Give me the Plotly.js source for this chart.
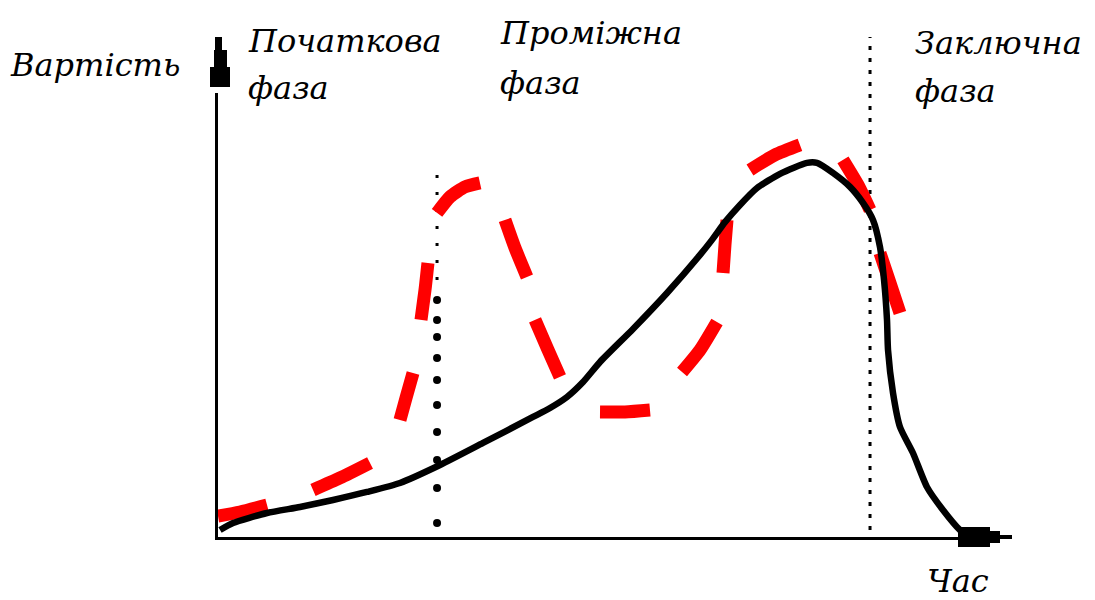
<!DOCTYPE html>
<html>
<head>
<meta charset="utf-8">
<script src="https://cdn.plot.ly/plotly-3.0.1.min.js"></script>
<style>html,body{margin:0;padding:0;background:#fff;}#chart{width:1095px;height:600px;}</style>
</head>
<body>
<div id="chart"></div>
<script>
// ---- data (time on x, cost on y; arbitrary units) ----
const costTime = [0.26,1.92,6.27,10.49,14.71,19.05,23.27,28.39,33.89,40.28,42.46,44.63,46.68,48.85,53.07,57.42,61.64,63.17,64.83,66.75,68.93,71.87,75.32,76.60,78.64,80.82,82.48,83.76,84.65,85.17,85.55,85.68,86.32,87.21,88.87,90.66,92.71,94.88,96.16];
const costValue = [1.42,2.85,4.88,6.10,7.52,9.15,10.98,14.63,19.11,24.39,26.22,28.46,31.50,35.57,42.28,49.59,57.32,60.37,63.98,67.48,70.93,73.78,76.02,76.02,73.98,71.14,67.89,64.43,58.94,52.24,44.11,38.01,29.27,22.36,17.07,10.16,5.49,1.42,0];

// red dashed curve, null separates dashes
const altTime = [0,2.81,6.27,null,12.15,15.60,19.44,null,23.27,24.04,24.94,null,25.96,26.47,26.85,null,28.01,29.67,31.59,33.50,null,36.70,37.98,39.51,null,40.54,42.20,43.73,null,48.85,52.05,55.24,null,59.34,61.64,63.81,null,64.58,64.83,65.09,null,68.03,71.23,74.42,null,79.92,81.84,83.38,null,84.65,85.93,87.21];
const altValue = [4.27,5.08,6.50,null,9.55,11.99,15.04,null,23.78,28.25,33.33,null,44.11,50.20,55.69,null,65.85,69.11,71.14,71.95,null,64.43,58.74,52.85,null,44.11,38.01,32.52,null,25.41,25.41,25.81,null,33.54,38.01,43.70,null,53.66,59.35,64.43,null,74.59,77.64,79.67,null,76.63,71.54,66.46,null,57.72,51.63,45.53];

// phase boundaries
const boundary1Time = 28.01;
const boundary1SmallDots = [73.58, 50.20];
const boundary1BigDots = [48.17,44.11,40.65,36.38,31.91,26.83,21.34,15.65,9.96,2.85];
const boundary2Time = 83.38;
const boundary2Span = [1.42, 101.6];

const labels = {
  y: "Вартість", x: "Час",
  phase1: ["Початкова","фаза"],
  phase2: ["Проміжна","фаза"],
  phase3: ["Заключна","фаза"]
};

// ---- layout helpers (pixel -> paper) ----
const L = 218, R = 1000, T = 37, B = 537;
const px = p => (p - L) / (R - L);
const py = p => (B - p) / (B - T);

const traces = [
  {x: [boundary1Time, boundary1Time], y: boundary1SmallDots, mode: 'lines',
   line: {color: '#000', width: 3, dash: '3px,14px'}, hoverinfo: 'skip'},
  {x: boundary1BigDots.map(() => boundary1Time), y: boundary1BigDots, mode: 'markers',
   marker: {color: '#000', size: 8}, hoverinfo: 'skip'},
  {x: [boundary2Time, boundary2Time], y: boundary2Span, mode: 'lines',
   line: {color: '#000', width: 3, dash: '4px,8px'}, hoverinfo: 'skip'},
  {x: altTime, y: altValue, mode: 'lines', connectgaps: false,
   line: {color: '#ff0000', width: 13, shape: 'spline', smoothing: 0.6}, hoverinfo: 'skip'},
  {x: costTime, y: costValue, mode: 'lines',
   line: {color: '#000', width: 6.5, shape: 'spline', smoothing: 0.6}, hoverinfo: 'skip'}
];

const fontFam = 'DejaVu Serif';
function ann(text, xp, yp, size) {
  return {text: text, xref: 'paper', yref: 'paper', x: px(xp), y: py(yp),
    xanchor: 'left', yanchor: 'bottom', showarrow: false,
    font: {family: fontFam, size: size, color: '#000', style: 'italic'}};
}

const layout = {
  width: 1095, height: 600,
  margin: {l: L, r: 1095 - R, t: T, b: 600 - B, pad: 0},
  paper_bgcolor: '#fff', plot_bgcolor: '#fff',
  showlegend: false,
  font: {family: fontFam},
  xaxis: {range: [0, 100], showgrid: false, zeroline: false, showticklabels: false, ticks: '',
          showline: true, linecolor: '#000', linewidth: 3},
  yaxis: {range: [0, 101.6], showgrid: false, zeroline: false, showticklabels: false, ticks: '',
          showline: true, linecolor: '#000', linewidth: 3},
  shapes: [
    {type: 'rect', xref: 'paper', yref: 'paper', x0: px(214), x1: px(222), y0: py(93), y1: py(87), fillcolor: '#fff', line: {width: 0}},
    {type: 'rect', xref: 'paper', yref: 'paper', x0: px(210), x1: px(230), y0: py(87), y1: py(67), fillcolor: '#000', line: {width: 0}},
    {type: 'rect', xref: 'paper', yref: 'paper', x0: px(214), x1: px(227), y0: py(67), y1: py(50), fillcolor: '#000', line: {width: 0}},
    {type: 'rect', xref: 'paper', yref: 'paper', x0: px(218), x1: px(222), y0: py(50), y1: py(37), fillcolor: '#000', line: {width: 0}},
    {type: 'rect', xref: 'paper', yref: 'paper', x0: px(958), x1: px(990), y0: py(547), y1: py(527), fillcolor: '#000', line: {width: 0}},
    {type: 'rect', xref: 'paper', yref: 'paper', x0: px(990), x1: px(1000), y0: py(543), y1: py(531), fillcolor: '#000', line: {width: 0}},
    {type: 'rect', xref: 'paper', yref: 'paper', x0: px(1000), x1: px(1012), y0: py(539), y1: py(535), fillcolor: '#000', line: {width: 0}}
  ],
  annotations: [
    ann(labels.y, 8, 86, 32),
    ann(labels.phase1[0], 246, 62, 32),
    ann(labels.phase1[1], 246, 109, 32),
    ann(labels.phase2[0], 498, 54, 32),
    ann(labels.phase2[1], 498, 104, 32),
    ann(labels.phase3[0], 913, 64, 32),
    ann(labels.phase3[1], 913, 112, 32),
    ann(labels.x, 925, 602, 32)
  ]
};

Plotly.newPlot('chart', traces, layout, {displayModeBar: false, staticPlot: true});
</script>
</body>
</html>
